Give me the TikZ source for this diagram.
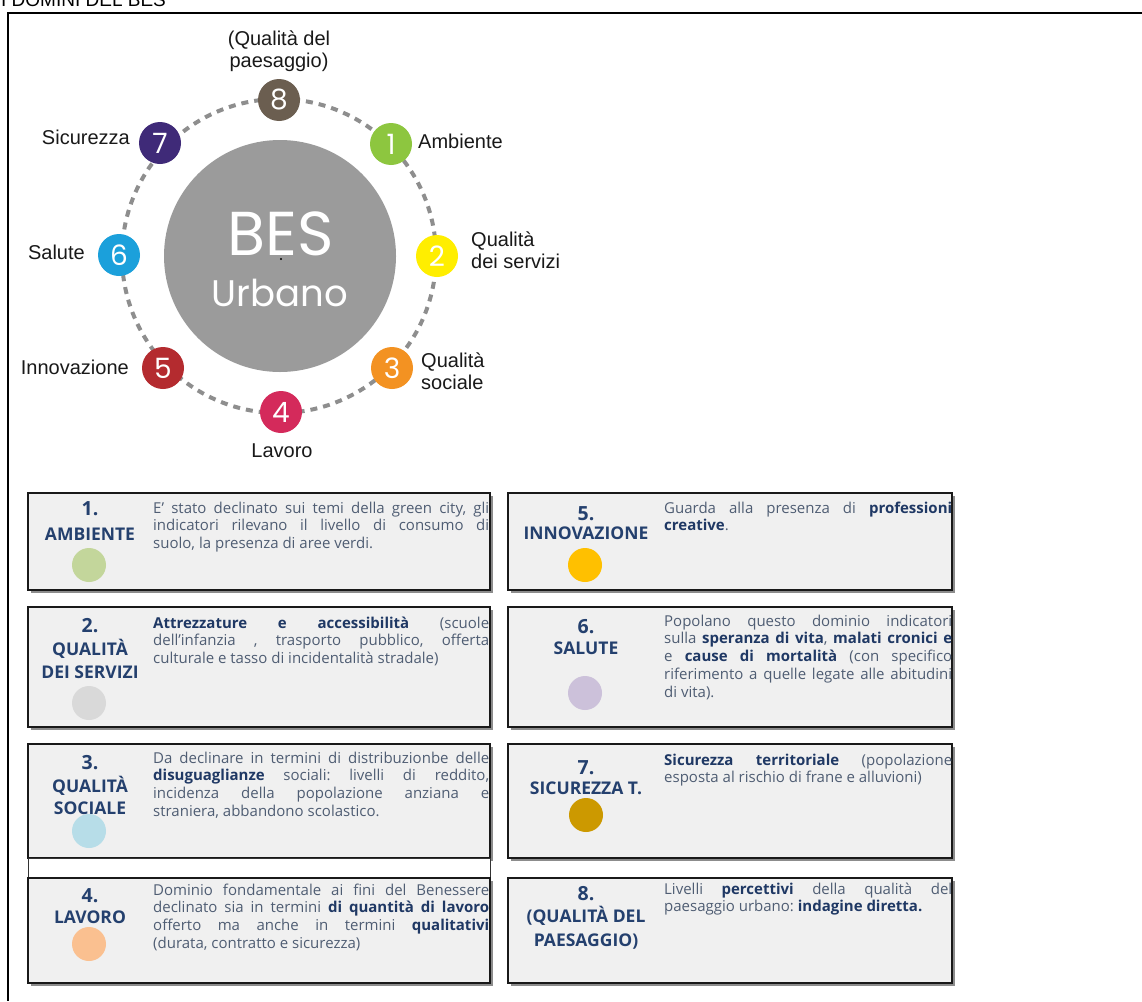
\documentclass[tikz,border=0pt]{standalone}
\usepackage{fontspec}
\setmainfont{Liberation Sans}
\newfontfamily\osans{Open Sans}
\newfontfamily\geo{Poppins}
\usetikzlibrary{shadows}
\frenchspacing
\definecolor{besgray}{HTML}{9B9B9B}
\definecolor{ringgray}{HTML}{8E8E8E}
\definecolor{c8}{HTML}{6B5E50}
\definecolor{c1}{HTML}{8DC63F}
\definecolor{c2}{HTML}{FFEE00}
\definecolor{c3}{HTML}{F39222}
\definecolor{c4}{HTML}{D42A5B}
\definecolor{c5}{HTML}{B42B2F}
\definecolor{c6}{HTML}{1BA0DB}
\definecolor{c7}{HTML}{3F2A78}
\definecolor{titlecol}{HTML}{24406E}
\definecolor{bodycol}{HTML}{4F5D73}
\definecolor{boldcol}{HTML}{1F3864}
\definecolor{boxfill}{HTML}{F0F0F0}
\definecolor{d1}{HTML}{C3D69B}
\definecolor{d2}{HTML}{D9D9D9}
\definecolor{d3}{HTML}{B7DDE8}
\definecolor{d4}{HTML}{FAC090}
\definecolor{d5}{HTML}{FFC000}
\definecolor{d6}{HTML}{CCC1DA}
\definecolor{d7}{HTML}{CC9900}
\newcommand{\bb}[1]{{\bfseries\color{boldcol}#1}}
\begin{document}
\begin{tikzpicture}[x=1pt,y=-1pt,
  numc/.style={circle, minimum size=42pt, inner sep=0pt, text=white, font=\geo\fontsize{28}{28}\selectfont},
  lab/.style={inner sep=0pt, font=\fontsize{20}{22}\selectfont, text=black!90},
  boxsh/.style={fill=boxfill, draw=black!90, line width=1.6pt, drop shadow={shadow xshift=2.5pt, shadow yshift=-2.5pt, opacity=0.45, fill=black}},
  bnum/.style={inner sep=0pt, anchor=base, text=titlecol, font=\osans\bfseries\fontsize{19.5}{19.5}\selectfont},
  bname/.style={inner sep=0pt, anchor=base, text=titlecol, font=\osans\bfseries\fontsize{17.5}{17.5}\selectfont},
  bodyL/.style={inner sep=0pt, anchor=north west, text width=336pt, align=justify, text=bodycol, font=\osans\fontsize{15}{17.8}\selectfont\frenchspacing},
  bodyR/.style={bodyL, text width=288pt},
  dotc/.style={circle, minimum size=34pt, inner sep=0pt}]
\useasboundingbox (0,0) rectangle (1142,1001);
\fill[white] (0,0) rectangle (1142,1001);
% title and frame
\node[anchor=base west, inner sep=0pt, font=\fontsize{19}{20}\selectfont] (title) at (1,6) {I DOMINI DEL BES};
\draw[line width=2pt] (1142,13) -- (8,13) -- (8,1001);
% ring
\draw[ringgray, line width=4pt, dash pattern=on 7pt off 6pt] (279,256) circle[radius=157];
\node[circle, fill=besgray, minimum size=232pt, inner sep=0pt] (bes) at (280,256) {};
\node[anchor=base, inner sep=0pt, text=white, font=\geo\fontsize{62}{62}\selectfont] (bestxt) at (281,255) {BES};
\node[circle, fill=black, inner sep=0pt, minimum size=2.2pt] (besdot) at (281,259) {};
\node[anchor=base, inner sep=0pt, text=white, font=\geo\fontsize{37}{37}\selectfont] (urb) at (280,306) {Urbano};
% numbered circles
\node[numc, fill=c8] (n8) at (279,100) {8};
\node[numc, fill=c1] (n1) at (391,144) {1};
\node[numc, fill=c2] (n2) at (437,256) {2};
\node[numc, fill=c3] (n3) at (392,368) {3};
\node[numc, fill=c4] (n4) at (281,412) {4};
\node[numc, fill=c5] (n5) at (163,368) {5};
\node[numc, fill=c6] (n6) at (119,255) {6};
\node[numc, fill=c7] (n7) at (160,143) {7};
% labels
\node[lab, anchor=base] (l8a) at (279,45) {(Qualità del};
\node[lab, anchor=base] (l8b) at (279,67) {paesaggio)};
\node[lab, anchor=base west] (l1) at (418,148) {Ambiente};
\node[lab, anchor=base west] (l2a) at (471,246) {Qualità};
\node[lab, anchor=base west] (l2b) at (471,268) {dei servizi};
\node[lab, anchor=base west] (l3a) at (421,367) {Qualità};
\node[lab, anchor=base west] (l3b) at (421,389) {sociale};
\node[lab, anchor=base] (l4) at (282,457) {Lavoro};
\node[lab, anchor=base east] (l5) at (129,374) {Innovazione};
\node[lab, anchor=base east] (l6) at (85,259) {Salute};
\node[lab, anchor=base east] (l7) at (130,144) {Sicurezza};
% boxes
\path[boxsh] (28,493) rectangle (490,590);
\path[boxsh] (508,493) rectangle (952,590);
\path[boxsh] (28,607) rectangle (490,727);
\path[boxsh] (508,607) rectangle (952,727);
\path[boxsh] (28,744) rectangle (490,858);
\draw[fill=white, draw=black!80, line width=1pt] (28,858) rectangle (490,878);
\path[boxsh] (508,744) rectangle (952,858);
\path[boxsh] (28,878) rectangle (490,983);
\path[boxsh] (508,878) rectangle (952,983);
% box 1
\node[bnum] (t1n) at (90,515) {1.};
\node[bname] (t1) at (90,540) {AMBIENTE};
\node[dotc, fill=d1] (dt1) at (89,565) {};
\node[bodyL] (x1) at (153,500.5) {\strut E’ stato declinato sui temi della green city, gli\linebreak indicatori rilevano il livello di consumo di\linebreak suolo, la presenza di aree verdi.};
% box 5
\node[bnum] (t5n) at (586,520) {5.};
\node[bname] (t5) at (586,539) {INNOVAZIONE};
\node[dotc, fill=d5] (dt5) at (585,565) {};
\node[bodyR] (x5) at (664,500.5) {\strut Guarda alla presenza di \bb{professioni}\linebreak \bb{creative}.};
% box 2
\node[bnum] (t2n) at (90,632) {2.};
\node[bname] (t2a) at (90,655) {QUALITÀ};
\node[bname] (t2b) at (90,678) {DEI SERVIZI};
\node[dotc, fill=d2] (dt2) at (89,703) {};
\node[bodyL] (x2) at (153,615.5) {\strut\bb{Attrezzature e accessibilità} (scuole\linebreak dell’infanzia , trasporto pubblico, offerta\linebreak culturale e tasso di incidentalità stradale)};
% box 6
\node[bnum] (t6n) at (586,633) {6.};
\node[bname] (t6) at (586,654) {SALUTE};
\node[dotc, fill=d6] (dt6) at (585,693) {};
\node[bodyR] (x6) at (664,613.5) {\strut Popolano questo dominio indicatori\linebreak sulla \bb{speranza di vita}, \bb{malati cronici e}\linebreak e \bb{cause di mortalità} (con specifico\linebreak riferimento a quelle legate alle abitudini\linebreak di vita).};
% box 3
\node[bnum] (t3n) at (90,769) {3.};
\node[bname] (t3a) at (90,792) {QUALITÀ};
\node[bname] (t3b) at (90,814) {SOCIALE};
\node[dotc, fill=d3] (dt3) at (89,831) {};
\node[bodyL] (x3) at (153,750.5) {\strut Da declinare in termini di distribuzionbe delle\linebreak \bb{disuguaglianze} sociali: livelli di reddito,\linebreak incidenza della popolazione anziana e\linebreak straniera, abbandono scolastico.};
% box 7
\node[bnum] (t7n) at (586,774) {7.};
\node[bname] (t7) at (586,794) {SICUREZZA T.};
\node[dotc, fill=d7] (dt7) at (586,815) {};
\node[bodyR] (x7) at (664,752.5) {\strut\bb{Sicurezza territoriale} (popolazione\linebreak esposta al rischio di frane e alluvioni)};
% box 4
\node[bnum] (t4n) at (90,902) {4.};
\node[bname] (t4) at (90,923) {LAVORO};
\node[dotc, fill=d4] (dt4) at (89,944) {};
\node[bodyL] (x4) at (153,882.5) {\strut Dominio fondamentale ai fini del Benessere\linebreak declinato sia in termini \bb{di quantità di lavoro}\linebreak offerto ma anche in termini \bb{qualitativi}\linebreak (durata, contratto e sicurezza)};
% box 8
\node[bnum] (t8n) at (586,900) {8.};
\node[bname] (t8a) at (586,922) {(QUALITÀ DEL};
\node[bname] (t8b) at (586,946) {PAESAGGIO)};
\node[bodyR] (x8) at (664,881.5) {\strut Livelli \bb{percettivi} della qualità del\linebreak paesaggio urbano: \bb{indagine diretta.}};
\end{tikzpicture}
\end{document}
